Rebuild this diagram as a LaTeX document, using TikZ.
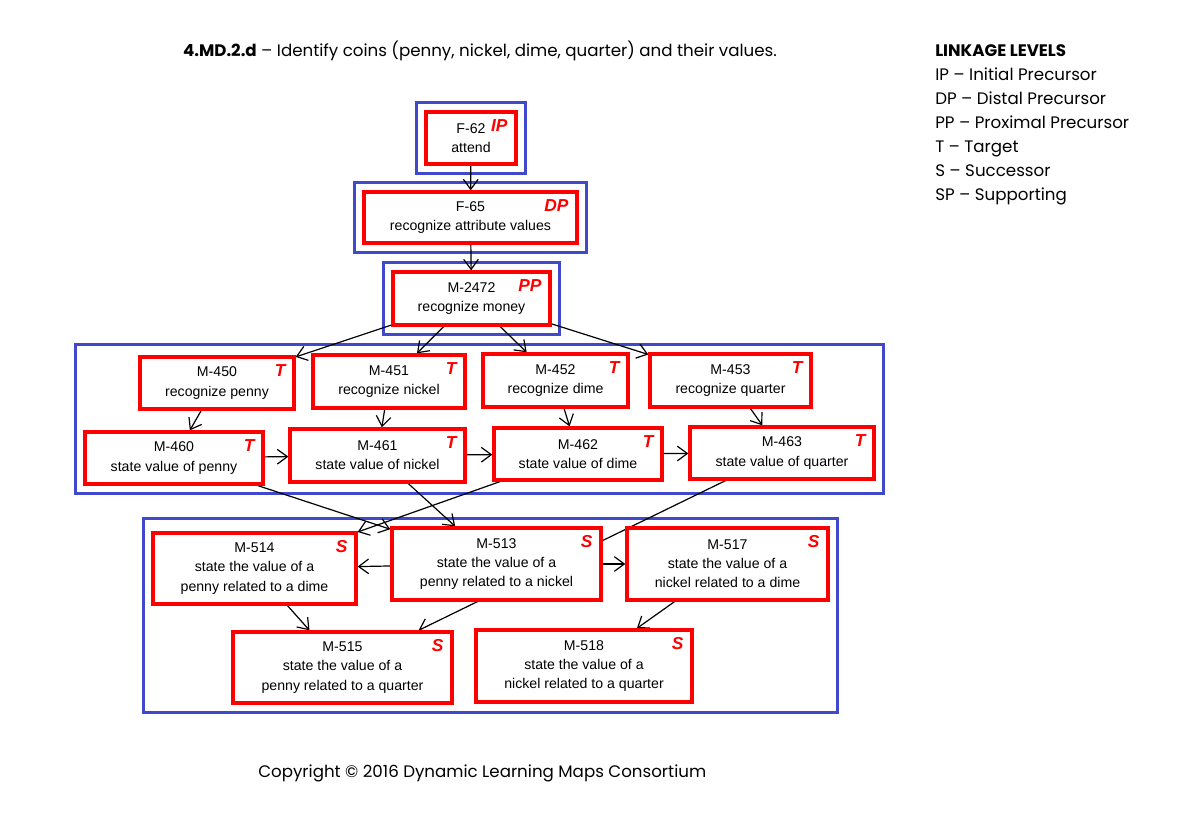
\documentclass[tikz,border=0pt]{standalone}
\usepackage{fontspec}
\setmainfont{Liberation Sans}
\newfontfamily\headfont{Poppins}
\usetikzlibrary{arrows.meta,fit}
\definecolor{nodered}{HTML}{FF0000}
\definecolor{groupblue}{HTML}{4048CC}
\definecolor{ink}{HTML}{000000}
\pgfdeclarelayer{background}
\pgfsetlayers{background,main}
\tikzset{
  skill/.style={
    rectangle,
    draw=nodered,
    line width=2.5pt,
    fill=white,
    align=center,
    inner sep=0pt,
    font=\fontsize{10.6pt}{14.4pt}\selectfont,
    text=ink
  },
  size/.style 2 args={
    minimum width=#1*0.75pt,
    minimum height=#2*0.75pt
  },
  tag/.style={
    font=\fontsize{13pt}{15pt}\selectfont\bfseries\itshape,
    text=nodered,
    inner sep=0pt,
    anchor=north east,
    xshift=-7.5pt,
    yshift=-6.5pt
  },
  groupbox/.style={
    rectangle,
    draw=groupblue,
    line width=2.2pt,
    inner sep=6pt
  },
  link/.style={
    -{Straight Barb[length=7.5pt,width=11pt]},
    draw=ink,
    line width=0.9pt
  },
  headtext/.style={
    font=\headfont\fontsize{12.5pt}{18pt}\selectfont,
    text=ink,
    inner sep=0pt
  }
}
\begin{document}
\begin{tikzpicture}[x=0.75pt,y=-0.75pt]
  \useasboundingbox (0,0) rectangle (1200,816);

  % ============================================================
  % Title and legend
  % ============================================================
  \node[headtext, anchor=base] (title) at (480,57)
    {\textbf{4.MD.2.d} – Identify coins (penny, nickel, dime, quarter) and their values.};

  \node[headtext, anchor=base west] (legend-0) at (935,57) {\textbf{LINKAGE LEVELS}};
  \foreach \txt [count=\i] in {IP – Initial Precursor, DP – Distal Precursor,
      PP – Proximal Precursor, T – Target, S – Successor, SP – Supporting}
    \node[headtext, anchor=base west] (legend-\i) at (935,57+24*\i) {\txt};

  \node[headtext, anchor=base west] (copyright) at (258,777)
    {Copyright © 2016 Dynamic Learning Maps Consortium};

  % ============================================================
  % Precursor chain
  % ============================================================
  \node[skill, size={90}{52}, label={[tag]north east:IP}] (f62) at (471,138)
    {F-62\\attend};
  \node[skill, size={213}{51}, label={[tag]north east:DP}] (f65) at (470.5,217.5)
    {F-65\\recognize attribute values};
  \node[skill, size={157}{53}, label={[tag]north east:PP}] (m2472) at (471.5,298.5)
    {M-2472\\recognize money};

  % ============================================================
  % Targets
  % ============================================================
  \node[skill, size={154}{52}, label={[tag]north east:T}] (m450) at (217,383)
    {M-450\\recognize penny};
  \node[skill, size={152}{53}, label={[tag]north east:T}] (m451) at (389,381.5)
    {M-451\\recognize nickel};
  \node[skill, size={145}{53}, label={[tag]north east:T}] (m452) at (555.5,380.5)
    {M-452\\recognize dime};
  \node[skill, size={161}{53}, label={[tag]north east:T}] (m453) at (730.5,380.5)
    {M-453\\recognize quarter};

  \node[skill, size={178}{52}, label={[tag]north east:T}] (m460) at (174,458)
    {M-460\\state value of penny};
  \node[skill, size={175}{53}, label={[tag]north east:T}] (m461) at (377.5,455.5)
    {M-461\\state value of nickel};
  \node[skill, size={168}{52}, label={[tag]north east:T}] (m462) at (578,454)
    {M-462\\state value of dime};
  \node[skill, size={184}{52}, label={[tag]north east:T}] (m463) at (782,453)
    {M-463\\state value of quarter};

  % ============================================================
  % Successors
  % ============================================================
  \node[skill, size={203}{71}, label={[tag]north east:S}] (m514) at (254.5,568.5)
    {M-514\\state the value of a\\penny related to a dime};
  \node[skill, size={209}{72}, label={[tag]north east:S}] (m513) at (496.5,564)
    {M-513\\state the value of a\\penny related to a nickel};
  \node[skill, size={201}{72}, label={[tag]north east:S}] (m517) at (727.5,564)
    {M-517\\state the value of a\\nickel related to a dime};
  \node[skill, size={219}{71}, label={[tag]north east:S}] (m515) at (342.5,667.5)
    {M-515\\state the value of a\\penny related to a quarter};
  \node[skill, size={216}{72}, label={[tag]north east:S}] (m518) at (584,666)
    {M-518\\state the value of a\\nickel related to a quarter};

  % group frames and connectors sit behind the white boxes
  \begin{pgfonlayer}{background}
    \node[groupbox, fit=(f62)] (grp-ip) {};
    \node[groupbox, fit=(f65)] (grp-dp) {};
    \node[groupbox, fit=(m2472)] (grp-pp) {};
    \node[groupbox, fit=(m450)(m453)(m460)(m463)] (grp-t) {};
    \node[groupbox, fit=(m514)(m517)(m515)(m518)] (grp-s) {};

    \draw[link] (f62) -- (f65);
    \draw[link] (f65) -- (m2472);
    \draw[link] (m2472) -- (m450);
    \draw[link] (m2472) -- (m451);
    \draw[link] (m2472) -- (m452);
    \draw[link] (m2472) -- (m453);
    \draw[link] (m450) -- (m460);
    \draw[link] (m451) -- (m461);
    \draw[link] (m452) -- (m462);
    \draw[link] (m453) -- (m463);
    \draw[link] (m460) -- (m461);
    \draw[link] (m461) -- (m462);
    \draw[link] (m462) -- (m463);
    \draw[link] (m460) -- (m513);
    \draw[link] (m461) -- (m513);
    \draw[link] (m462) -- (m514);
    \draw[link] (m463) -- (m515);
    \draw[link] (m513) -- (m514);
    \draw[link] (m513) -- (m517);
    \draw[link] (m514) -- (m515);
    \draw[link] (m517) -- (m518);
  \end{pgfonlayer}

\end{tikzpicture}
\end{document}
